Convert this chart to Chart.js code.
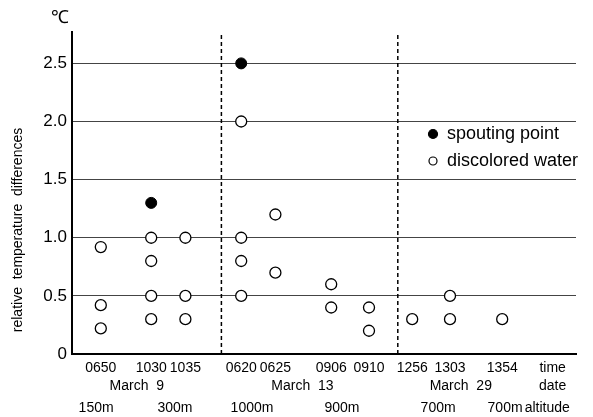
<!DOCTYPE html>
<html>
<head>
<meta charset="utf-8">
<script src="https://cdn.jsdelivr.net/npm/chart.js@4"></script>
<style>
  html, body { margin: 0; padding: 0; background: #fff; }
  #wrap { width: 593px; height: 417px; }
</style>
</head>
<body>
<div id="wrap"><canvas id="chart"></canvas></div>
<script>
// Sampling times along the x axis and where each one sits on it
const times = ['0650', '1030', '1035', '0620', '0625', '0906', '0910', '1256', '1303', '1354'];
const timePos = [0.8, 2.2, 3.15, 4.7, 5.65, 7.2, 8.25, 9.45, 10.5, 11.95];

// Second and third label rows
const dates = ['March  9', 'March  13', 'March  29'];
const datePos = [1.8, 6.4, 10.8];
const altitudes = ['150m', '300m', '1000m', '900m', '700m', '700m'];
const altitudePos = [0.67, 2.86, 5.0, 7.5, 10.17, 12.03];
const rowNames = ['time', 'date', 'altitude'];
const rowNamePos = [13.35, 13.35, 13.2];

// Dashed separators between survey days
const dividerPos = [4.15, 9.05];

// Spouting point (filled)
const spoutingTimes = ['1030', '0620'];
const spoutingValues = [1.3, 2.5];

// Discolored water (open)
const discoloredTimes = ['0650', '0650', '0650',
  '1030', '1030', '1030', '1030',
  '1035', '1035', '1035',
  '0620', '0620', '0620', '0620',
  '0625', '0625',
  '0906', '0906',
  '0910', '0910',
  '1256',
  '1303', '1303',
  '1354'];
const discoloredValues = [0.92, 0.42, 0.22,
  1.0, 0.8, 0.5, 0.3,
  1.0, 0.5, 0.3,
  2.0, 1.0, 0.8, 0.5,
  1.2, 0.7,
  0.6, 0.4,
  0.4, 0.2,
  0.3,
  0.5, 0.3,
  0.3];

const yTicks = [0, 0.5, 1.0, 1.5, 2.0, 2.5];
const yMax = 2.77;
const xMin = 0, xMax = 14;

const FONT = "'Liberation Sans', Arial, sans-serif";

function toPoints(ts, vals) {
  return ts.map((t, i) => ({ x: timePos[times.indexOf(t)], y: vals[i] }));
}

const dividerSets = dividerPos.map(p => ({
  type: 'line',
  label: '',
  data: [{ x: p, y: 0 }, { x: p, y: yMax }],
  borderColor: '#000',
  borderWidth: 1.5,
  borderDash: [4, 3],
  pointRadius: 0,
  fill: false,
  order: 5
}));

function rowAxis(positions, labels, padding, height, weight, withBorder) {
  return {
    type: 'linear',
    position: 'bottom',
    min: xMin,
    max: xMax,
    weight: weight,
    grid: { display: false, drawTicks: false },
    border: withBorder ? { display: true, color: '#000', width: 2 } : { display: false },
    afterBuildTicks: axis => { axis.ticks = positions.map(v => ({ value: v })); },
    afterFit: axis => { axis.height = height; },
    ticks: {
      autoSkip: false,
      maxRotation: 0,
      padding: padding,
      color: '#000',
      font: { family: FONT, size: 14 },
      callback: (value, index) => labels[index]
    }
  };
}

// Extra text: unit mark, y title and the in-plot legend
const decorations = {
  id: 'decorations',
  afterDraw(chart) {
    const ctx = chart.ctx;
    const area = chart.chartArea;
    ctx.save();
    ctx.fillStyle = '#000';

    ctx.font = '18px ' + FONT;
    ctx.textAlign = 'center';
    ctx.textBaseline = 'middle';
    ctx.fillText('\u2103', 60, 18);

    ctx.save();
    ctx.translate(18, 230);
    ctx.rotate(-Math.PI / 2);
    ctx.font = '14px ' + FONT;
    ctx.fillText('relative  temperature  differences', 0, 0);
    ctx.restore();

    const lx = area.left + 361;
    const ly = area.top + 102;
    const sets = [chart.data.datasets[0], chart.data.datasets[1]];
    sets.forEach((ds, i) => {
      const y = ly + i * 27;
      ctx.beginPath();
      ctx.arc(lx, y, i === 0 ? 4.5 : 4, 0, Math.PI * 2);
      ctx.fillStyle = ds.backgroundColor;
      ctx.fill();
      ctx.lineWidth = 1.2;
      ctx.strokeStyle = ds.borderColor;
      ctx.stroke();
      ctx.fillStyle = '#000';
      ctx.font = '18px ' + FONT;
      ctx.textAlign = 'left';
      ctx.fillText(ds.label, lx + 14, y);
    });
    ctx.restore();
  }
};

new Chart(document.getElementById('chart'), {
  type: 'scatter',
  data: {
    datasets: [
      {
        label: 'spouting point',
        data: toPoints(spoutingTimes, spoutingValues),
        backgroundColor: '#000',
        borderColor: '#000',
        borderWidth: 1,
        pointRadius: 5.5,
        order: 1
      },
      {
        label: 'discolored water',
        data: toPoints(discoloredTimes, discoloredValues),
        backgroundColor: '#fff',
        borderColor: '#000',
        borderWidth: 1.3,
        pointRadius: 5.5,
        order: 2
      },
      ...dividerSets
    ]
  },
  options: {
    responsive: true,
    maintainAspectRatio: false,
    animation: false,
    layout: { padding: { top: 32, right: 17, left: 0, bottom: 0 } },
    plugins: {
      legend: { display: false },
      tooltip: { enabled: false }
    },
    scales: {
      x: rowAxis(timePos.concat(rowNamePos[0]), times.concat(rowNames[0]), 6, 20, 0, true),
      x2: rowAxis(datePos.concat(rowNamePos[1]), dates.concat(rowNames[1]), 4, 20, 1, false),
      x3: rowAxis(altitudePos.concat(rowNamePos[2]), altitudes.concat(rowNames[2]), 6, 23, 2, false),
      y: {
        type: 'linear',
        min: 0,
        max: yMax,
        border: { display: true, color: '#000', width: 2 },
        grid: {
          drawTicks: false,
          color: ctx => ctx.tick && ctx.tick.value === 0 ? 'rgba(0,0,0,0)' : '#444',
          lineWidth: 1
        },
        afterBuildTicks: axis => { axis.ticks = yTicks.map(v => ({ value: v })); },
        afterFit: axis => { axis.width = 72; },
        ticks: {
          padding: 5,
          color: '#000',
          font: { family: FONT, size: 17 },
          callback: v => v === 0 ? '0' : v.toFixed(1)
        }
      }
    }
  },
  plugins: [decorations]
});
</script>
</body>
</html>
